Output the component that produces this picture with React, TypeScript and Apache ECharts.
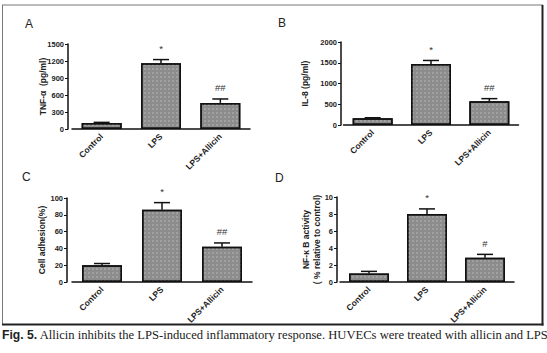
import React, { useEffect, useRef } from "react";
import * as echarts from "echarts";

const categories = ["Control", "LPS", "LPS+Allicin"];

const tnfValues = [105, 1160, 460];
const tnfErrors = [12, 65, 70];
const tnfMarks = ["", "*", "##"];

const il8Values = [160, 1470, 570];
const il8Errors = [15, 85, 65];
const il8Marks = ["", "*", "##"];

const adhesionValues = [20, 86, 42];
const adhesionErrors = [2, 8.5, 4.5];
const adhesionMarks = ["", "*", "##"];

const nfkbValues = [1.0, 8.0, 2.85];
const nfkbErrors = [0.25, 0.6, 0.4];
const nfkbMarks = ["", "*", "#"];

const panelLetters = ["A", "B", "C", "D"];
const yNames = ["TNF-α  (pg/ml)", "IL-8 (pg/ml)", "Cell adhesion(%)", "NF-κ B activity\n( % relative to control)"];
const yMax = [1500, 2000, 100, 10];
const yInterval = [300, 500, 20, 2];

const captionBold = "Fig. 5.";
const captionText = " Allicin inhibits the LPS-induced inflammatory response. HUVECs were treated with allicin and LPS";

const panels = [
  { values: tnfValues, errors: tnfErrors, marks: tnfMarks },
  { values: il8Values, errors: il8Errors, marks: il8Marks },
  { values: adhesionValues, errors: adhesionErrors, marks: adhesionMarks },
  { values: nfkbValues, errors: nfkbErrors, marks: nfkbMarks },
];

const grids = [
  { left: 72, top: 44, width: 178, height: 85 },
  { left: 343.5, top: 42, width: 175, height: 83 },
  { left: 72, top: 198, width: 180, height: 84 },
  { left: 340, top: 197, width: 174, height: 85 },
];
const yOffsets = [4, 2.5, 5, 3];
const nameGaps = [20, 31, 19.5, 15];
const letterPos = [
  [25, 24],
  [278, 22.5],
  [22, 176.5],
  [275, 177.5],
];

const FONT = "'Liberation Sans', Arial, sans-serif";

export default function App() {
  const ref = useRef<HTMLDivElement>(null);
  useEffect(() => {
    if (!ref.current) return;
    const chart = echarts.init(ref.current, undefined, { renderer: "svg" });

    const xAxis = grids.map((_, i) => ({
      type: "category",
      gridIndex: i,
      data: categories,
      axisLine: { lineStyle: { color: "#111", width: 1.5 } },
      axisTick: { alignWithLabel: true, length: 3, lineStyle: { color: "#111", width: 1 } },
      axisLabel: {
        rotate: 45,
        fontSize: 8.5,
        fontWeight: "bold",
        color: "#222",
        fontFamily: FONT,
        margin: 6,
      },
    }));

    const yAxis = grids.map((_, i) => ({
      type: "value",
      gridIndex: i,
      min: 0,
      max: yMax[i],
      interval: yInterval[i],
      offset: yOffsets[i],
      name: yNames[i],
      nameLocation: "middle",
      nameGap: nameGaps[i],
      nameMoveOverlap: false,
      nameTextStyle: { fontSize: 8.5, fontWeight: "bold", color: "#222", fontFamily: FONT, lineHeight: 11 },
      splitLine: { show: false },
      axisLine: { show: true, lineStyle: { color: "#111", width: 1.5 } },
      axisTick: { show: true, length: 3, lineStyle: { color: "#111", width: 1 } },
      axisLabel: {
        fontSize: 7.5,
        fontWeight: "bold",
        color: "#222",
        fontFamily: FONT,
        margin: 4,
        formatter: (v: number) => String(v),
      },
    }));

    const series: any[] = [];
    panels.forEach((p, i) => {
      series.push({
        type: "bar",
        xAxisIndex: i,
        yAxisIndex: i,
        data: p.values,
        barWidth: 40,
        itemStyle: {
          color: "#8c8c8c",
          borderColor: "#111",
          borderWidth: 1.5,
          decal: {
            symbol: "rect",
            symbolSize: 1,
            dashArrayX: [2, 2],
            dashArrayY: [2, 2],
            color: "rgba(255,255,255,0.18)",
          },
        },
        z: 2,
      });
      series.push({
        type: "custom",
        xAxisIndex: i,
        yAxisIndex: i,
        clip: false,
        z: 3,
        data: p.values.map((v, k) => [k, v, p.errors[k]]),
        renderItem: (params: any, api: any) => {
          const idx = api.value(0);
          const v = api.value(1);
          const e = api.value(2);
          const base = api.coord([idx, v]);
          const top = api.coord([idx, v + e]);
          const mark = p.marks[params.dataIndex];
          const children: any[] = [
            {
              type: "line",
              shape: { x1: base[0], y1: base[1], x2: top[0], y2: top[1] },
              style: { stroke: "#111", lineWidth: 1.5 },
            },
            {
              type: "line",
              shape: { x1: top[0] - 8, y1: top[1], x2: top[0] + 8, y2: top[1] },
              style: { stroke: "#111", lineWidth: 1.5 },
            },
          ];
          if (mark) {
            children.push({
              type: "text",
              x: top[0],
              y: top[1] - 6,
              style: {
                text: mark,
                fontSize: 9.5,
                fontFamily: FONT,
                fill: "#333",
                align: "center",
                verticalAlign: "bottom",
              },
            });
          }
          return { type: "group", children };
        },
      });
    });

    const graphics: any[] = [
      { type: "line", shape: { x1: 2, y1: 5, x2: 543, y2: 5 }, style: { stroke: "#777", lineWidth: 1 } },
      { type: "line", shape: { x1: 2.5, y1: 5, x2: 2.5, y2: 325 }, style: { stroke: "#777", lineWidth: 1 } },
      { type: "line", shape: { x1: 542.5, y1: 5, x2: 542.5, y2: 325.5 }, style: { stroke: "#222", lineWidth: 2 } },
      { type: "line", shape: { x1: 2, y1: 324.5, x2: 543.5, y2: 324.5 }, style: { stroke: "#222", lineWidth: 2 } },
      {
        type: "text",
        left: 2,
        top: 328,
        style: {
          text: "{b|" + captionBold + "}" + captionText,
          fontSize: 12.6,
          fontFamily: "'Liberation Serif', serif",
          fill: "#222",
          rich: {
            b: { fontSize: 12.2, fontWeight: "bold", fontFamily: "'Liberation Sans', sans-serif", fill: "#222" },
          },
        },
      },
    ];
    panelLetters.forEach((l, i) => {
      graphics.push({
        type: "text",
        x: letterPos[i][0],
        y: letterPos[i][1],
        style: { text: l, fontSize: 12, fontFamily: FONT, fill: "#222", verticalAlign: "middle" },
      });
    });

    chart.setOption({
      animation: false,
      backgroundColor: "#fff",
      grid: grids,
      xAxis,
      yAxis,
      series,
      graphic: graphics,
    });
    return () => chart.dispose();
  }, []);
  return (
    <div
      ref={ref}
      style={{ position: "fixed", left: 0, top: 0, width: 547, height: 353 }}
    />
  );
}
